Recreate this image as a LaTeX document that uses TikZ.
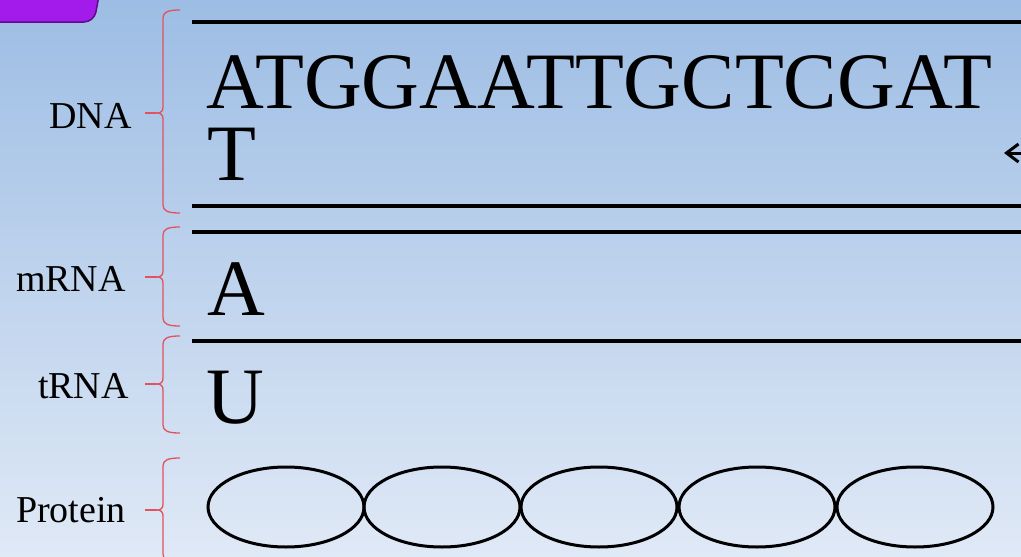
\documentclass[tikz,border=0pt]{standalone}
\usepackage{fontspec}
\setmainfont{Liberation Serif}
\usetikzlibrary{shapes.geometric,arrows.meta}
\definecolor{bgtop}{HTML}{9DBDE4}
\definecolor{bgbot}{HTML}{E0E9F6}
\definecolor{tabfill}{HTML}{A21BEA}
\definecolor{tabedge}{HTML}{5E0C8C}
\definecolor{bracered}{HTML}{E2525E}
\tikzset{
  strand/.style={line width=4.5pt, black},
  bracepath/.style={draw=bracered, line width=1.3pt},
  lbl/.style={anchor=base east, inner sep=0pt, font=\fontsize{38}{40}\selectfont},
  seq/.style={anchor=base west, inner sep=0pt, font=\fontsize{80}{72}\selectfont},
  aa/.style={ellipse, draw, line width=3pt, minimum width=156pt, minimum height=80pt, inner sep=0pt},
}
\newcommand{\mybrace}[3]{% top, middle, bottom
  \draw[bracepath] (180,#1) .. controls (168,#1) and (163,#1+2) .. (163,#1+8)
    -- (163,#2-6) .. controls (163,#2-2) and (161,#2) .. (157,#2)
    .. controls (161,#2) and (163,#2+2) .. (163,#2+6)
    -- (163,#3-8) .. controls (163,#3-2) and (168,#3) .. (180,#3);
  \draw[bracepath] (145,#2) -- (157,#2);
}
\begin{document}
\begin{tikzpicture}[x=1pt,y=-1pt]
\useasboundingbox (0,0) rectangle (1021,557);
\shade[top color=bgtop, bottom color=bgbot] (0,0) rectangle (1021,557);
% purple tab
\draw[fill=tabfill, draw=tabedge, line width=1.5pt, rounded corners=10pt] (-20,-20) -- (102,-20) -- (94,22) -- (-20,22) -- cycle;
% braces
\mybrace{10}{113}{213}
\mybrace{227}{277}{326}
\mybrace{336}{384}{433}
\mybrace{458}{510}{562}
% labels
\node[lbl] (dna) at (132,128) {DNA};
\node[lbl] (mrna) at (126,291) {mRNA};
\node[lbl] (trna) at (129,398) {tRNA};
\node[lbl] (prot) at (126,522) {Protein};
% strands
\draw[strand] (192,22) -- (1030,22);
\draw[strand] (192,206) -- (1030,206);
\draw[strand] (192,232) -- (1030,232);
\draw[strand] (192,341) -- (1030,341);
% sequences
\node[seq] (dnaseq) at (206,108) {ATGGAATTGCTCGAT};
\node[seq] (dnaseq2) at (207,180) {T};
\node[seq] (mrnaseq) at (207,315) {A};
\node[seq] (trnaseq) at (206,423) {U};
% arrow tip at right
\coordinate (arrowstart) at (1045,153);
\coordinate (arrowend) at (1004,153);
\draw[line width=3pt, -{Straight Barb[length=12pt,width=18pt]}] (arrowstart) -- (arrowend);
% protein chain
\node[aa] (p1) at (286,507) {};
\node[aa] (p2) at (442,507) {};
\node[aa] (p3) at (599,507) {};
\node[aa] (p4) at (757,507) {};
\node[aa] (p5) at (915,507) {};
\end{tikzpicture}
\end{document}
